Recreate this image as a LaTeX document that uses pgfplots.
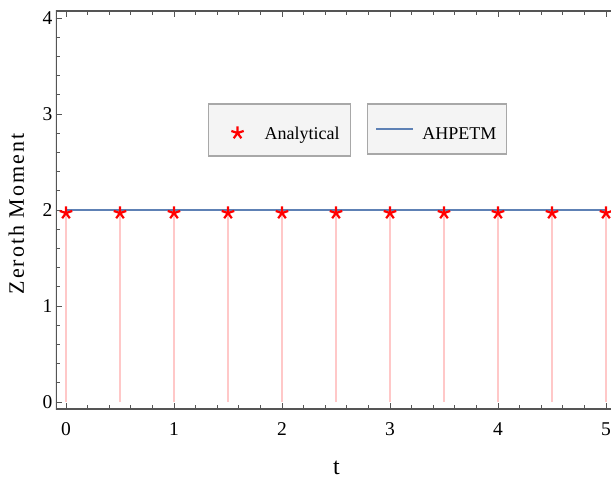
\documentclass[border=0pt]{standalone}
\usepackage{fontspec}
\setmainfont{Liberation Serif}
\usepackage{pgfplots}
\pgfplotsset{compat=1.18}
\definecolor{mblue}{HTML}{5E81B5}
\definecolor{dpink}{HTML}{FFC8C8}
\definecolor{framegray}{HTML}{555555}
\definecolor{legfill}{HTML}{F4F4F4}
\definecolor{legdraw}{HTML}{A8A8A8}
\pgfplotsset{
 common/.style={scale only axis, width=556bp, height=398bp,
   xmin=-0.0926, xmax=5.0556, ymin=-0.0729, ymax=4.0729,
   at={(0,0)}, anchor=south west},
 legbox/.style={legend style={fill=legfill, draw=legdraw, line width=1.2bp,
   font=\fontsize{18bp}{20bp}\selectfont, anchor=center,
   nodes={inner sep=2bp, text height=24bp, text depth=4bp}}, legend cell align=left},
 lineleg/.style={legend image code/.code={\path (0bp,0bp) (43bp,0bp); \draw[##1] (0bp,0bp) -- (37bp,0bp);}},
 starleg/.style={legend image code/.code={\path (0bp,0bp) (43bp,0bp); \draw[##1] plot coordinates {(19bp,0bp)};}},
}
\begin{document}
\begin{tikzpicture}
\begin{axis}[common,
  axis line style={draw=none},
  xtick={0,...,5}, ytick={0,...,4},
  minor x tick num=4, minor y tick num=4,
  xtick pos=both, ytick pos=left,
  tick align=inside,
  major tick length=6bp, minor tick length=4bp,
  tick style={framegray, line width=0.8bp},
  ticklabel style={font=\fontsize{19.5bp}{21bp}\selectfont},
  xticklabel style={anchor=base, yshift=-26bp},
  /pgf/number format/assume math mode=true,
  xlabel={t}, ylabel={\addfontfeature{LetterSpace=9}Zeroth Moment},
  xlabel style={font=\fontsize{24bp}{26bp}\selectfont, at={(axis description cs:0.5045,-0.1658)}, anchor=base},
  ylabel style={font=\fontsize{22bp}{24bp}\selectfont, at={(axis description cs:-0.0576,0.49)}, anchor=base},
  legbox, lineleg,
  legend style={at={(axis description cs:0.685,0.7035)}, inner xsep=8bp, inner ysep=9bp},
]
\draw[framegray, line width=1.5bp] (rel axis cs:1,1) -- (rel axis cs:0,1) -- (rel axis cs:0,0) -- (rel axis cs:1,0);
\addplot[dpink, line width=2bp, unbounded coords=jump, forget plot] coordinates {
 (0,0) (0,2) (0.25,nan)
 (0.5,0) (0.5,2) (0.75,nan)
 (1,0) (1,2) (1.25,nan)
 (1.5,0) (1.5,2) (1.75,nan)
 (2,0) (2,2) (2.25,nan)
 (2.5,0) (2.5,2) (2.75,nan)
 (3,0) (3,2) (3.25,nan)
 (3.5,0) (3.5,2) (3.75,nan)
 (4,0) (4,2) (4.25,nan)
 (4.5,0) (4.5,2) (4.75,nan)
 (5,0) (5,2)
};
\addplot[mblue, line width=2bp, no marks, lineleg]
  coordinates {(0,2) (5,2)};
\addlegendentry{AHPETM}
\end{axis}
\begin{axis}[common, hide axis, legbox, starleg,
  legend style={at={(axis description cs:0.402,0.701)}, inner xsep=9bp, inner ysep=10bp}]
\addplot[only marks, mark=star, red, mark size=6.5bp, line width=2.2bp,
  mark options={yshift=-3bp}, starleg]
  coordinates {(0,2) (0.5,2) (1,2) (1.5,2) (2,2) (2.5,2) (3,2) (3.5,2) (4,2) (4.5,2) (5,2)};
\addlegendentry{Analytical}
\end{axis}
\pgfresetboundingbox
\path (-56bp,-73bp) rectangle (555bp,409bp);
\end{tikzpicture}
\end{document}
